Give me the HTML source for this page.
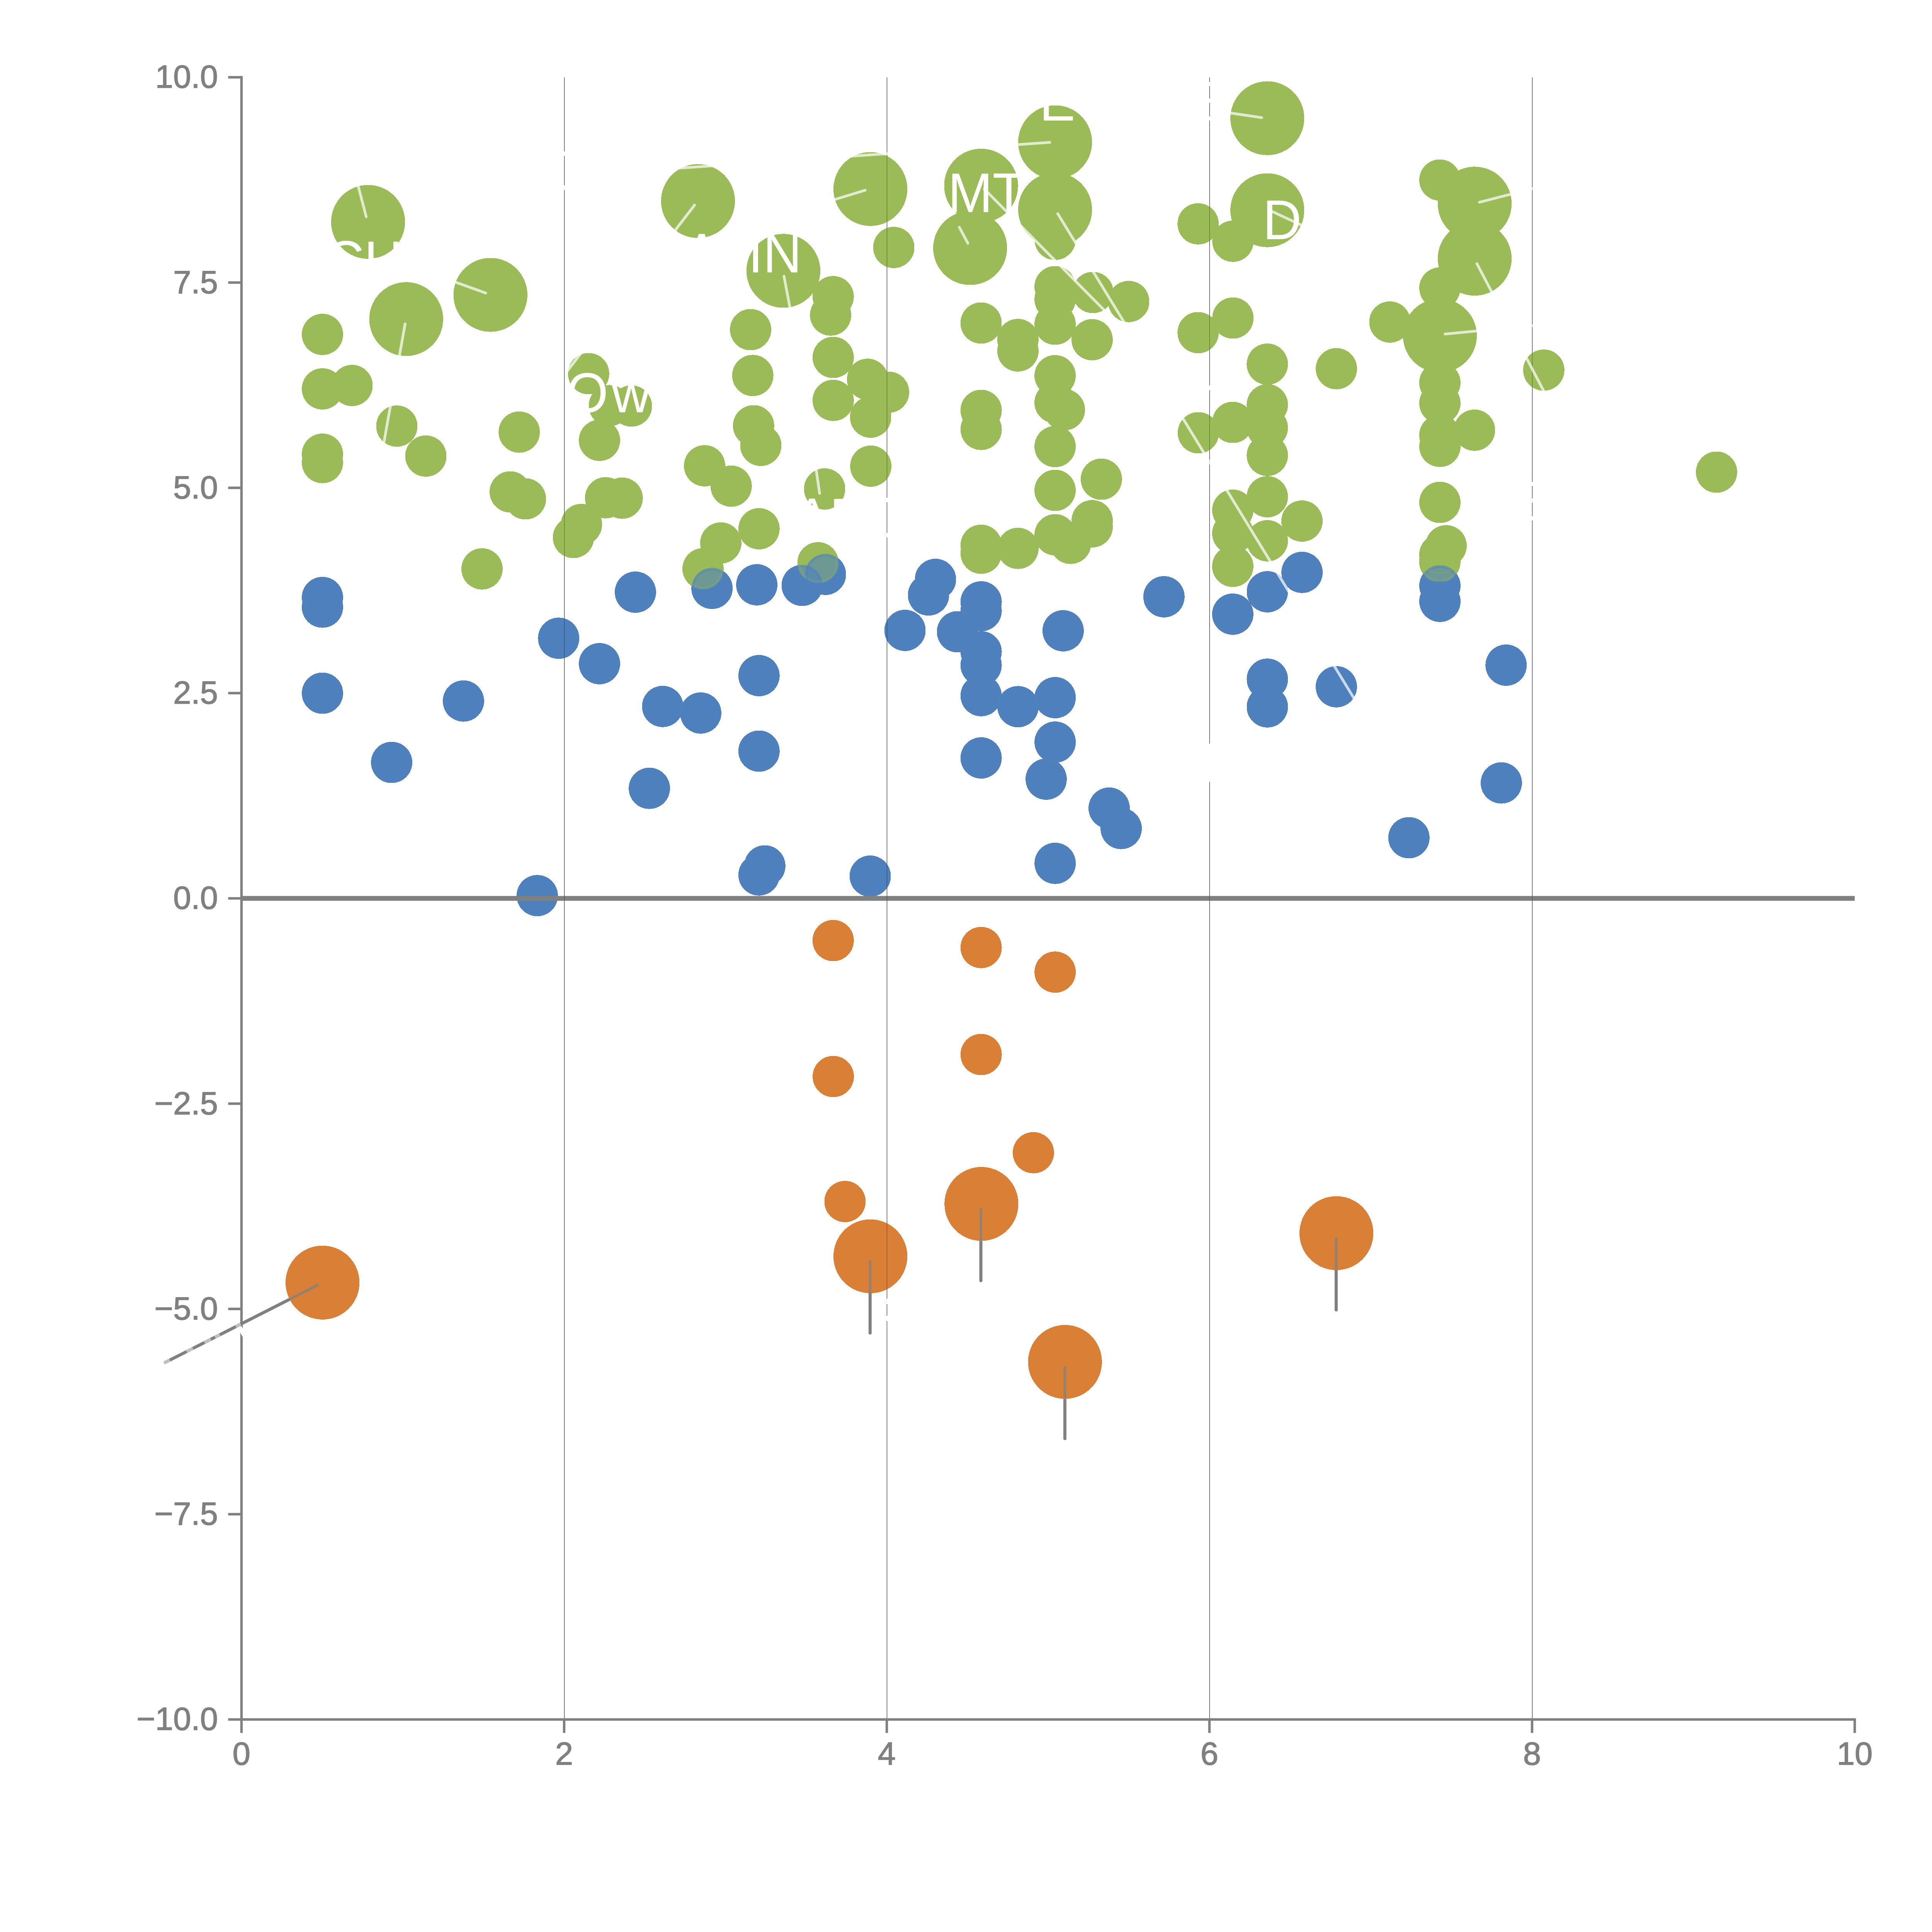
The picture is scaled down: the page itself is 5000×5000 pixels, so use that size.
<!DOCTYPE html><html><head><meta charset="utf-8"><title>chart</title><style>html,body{margin:0;padding:0;background:#fff}svg{display:block}text{font-family:"Liberation Sans",sans-serif}</style></head><body>
<svg width="5000" height="5000" viewBox="0 0 5000 5000">
<rect width="5000" height="5000" fill="#fff"/>
<g fill="#000"><rect x="1460" y="200" width="1" height="4247"/><rect x="2295" y="200" width="1" height="4247"/><rect x="3130" y="200" width="1" height="4247"/><rect x="3965" y="200" width="1" height="4247"/></g>
<g shape-rendering="crispEdges">
<g fill="#4F81BD"><circle cx="834.5" cy="1546.3" r="53.4"/><circle cx="834.5" cy="1571.2" r="53.4"/><circle cx="834.5" cy="1794" r="53.4"/><circle cx="1445.8" cy="1651.8" r="53.4"/><circle cx="1551.5" cy="1717.6" r="53.4"/><circle cx="1199.4" cy="1814.2" r="53.4"/><circle cx="1013.6" cy="1973.1" r="53.4"/><circle cx="1390.4" cy="2317.8" r="53.4"/><circle cx="1644.4" cy="1532.5" r="53.4"/><circle cx="1842.7" cy="1522.7" r="53.4"/><circle cx="1958.6" cy="1513.4" r="53.4"/><circle cx="2076.1" cy="1514.9" r="53.4"/><circle cx="2136.1" cy="1486.4" r="53.4"/><circle cx="2421" cy="1499.4" r="53.4"/><circle cx="2403" cy="1539.8" r="53.4"/><circle cx="2342.1" cy="1631.4" r="53.4"/><circle cx="2478" cy="1635" r="53.4"/><circle cx="1964.3" cy="1748.5" r="53.4"/><circle cx="1715" cy="1828.3" r="53.4"/><circle cx="1813.4" cy="1845.3" r="53.4"/><circle cx="1964.3" cy="1943.9" r="53.4"/><circle cx="1680.6" cy="2040.2" r="53.4"/><circle cx="1979.3" cy="2241" r="53.4"/><circle cx="1964.3" cy="2264.3" r="53.4"/><circle cx="2252.1" cy="2267.4" r="53.4"/><circle cx="2539.2" cy="1557.6" r="53.4"/><circle cx="2539.2" cy="1580.4" r="53.4"/><circle cx="2539.2" cy="1686.7" r="53.4"/><circle cx="2539.2" cy="1721.4" r="53.4"/><circle cx="2539.2" cy="1800.3" r="53.4"/><circle cx="2539.2" cy="1961.5" r="53.4"/><circle cx="2634.5" cy="1828.8" r="53.4"/><circle cx="2730.7" cy="1805.5" r="53.4"/><circle cx="2730.7" cy="1920.6" r="53.4"/><circle cx="2730.7" cy="2234.3" r="53.4"/><circle cx="2751.4" cy="1632.4" r="53.4"/><circle cx="2707.5" cy="2016.4" r="53.4"/><circle cx="2870.5" cy="2091.4" r="53.4"/><circle cx="2901.6" cy="2144.2" r="53.4"/><circle cx="3012.3" cy="1544.4" r="53.4"/><circle cx="3190.4" cy="1589.4" r="53.4"/><circle cx="3279.9" cy="1531.5" r="53.4"/><circle cx="3279.9" cy="1757.7" r="53.4"/><circle cx="3279.9" cy="1829.3" r="53.4"/><circle cx="3369.7" cy="1481.3" r="53.4"/><circle cx="3726.5" cy="1515.9" r="53.4"/><circle cx="3726.5" cy="1556.3" r="53.4"/><circle cx="3897.8" cy="1721.4" r="53.4"/><circle cx="3458.4" cy="1777.3" r="53.4"/><circle cx="3885.4" cy="2026.2" r="53.4"/><circle cx="3646.3" cy="2168" r="53.4"/></g>
<g fill="#9BBB59"><circle cx="952.6" cy="574.3" r="95.6"/><circle cx="1051.3" cy="825.8" r="95.6"/><circle cx="1269.3" cy="763.1" r="95.6"/><circle cx="1806.4" cy="520.3" r="95.6"/><circle cx="2252.6" cy="489.2" r="95.6"/><circle cx="2027.4" cy="700.9" r="95.6"/><circle cx="2730.6" cy="368.1" r="95.6"/><circle cx="2539.1" cy="480.4" r="95.6"/><circle cx="2730.6" cy="542.5" r="95.6"/><circle cx="2510.7" cy="641.9" r="95.6"/><circle cx="3279.8" cy="306" r="95.6"/><circle cx="3279.8" cy="544.1" r="95.6"/><circle cx="3816.5" cy="527" r="95.6"/><circle cx="3816.5" cy="669.4" r="95.6"/><circle cx="3726.4" cy="868.6" r="95.6"/><circle cx="834.5" cy="865.4" r="53.4"/><circle cx="834.5" cy="1006.4" r="53.4"/><circle cx="834.5" cy="1175.4" r="53.4"/><circle cx="834.5" cy="1197.2" r="53.4"/><circle cx="911.1" cy="997.6" r="53.4"/><circle cx="1027" cy="1102.7" r="53.4"/><circle cx="1102.1" cy="1180.3" r="53.4"/><circle cx="1343.8" cy="1118.2" r="53.4"/><circle cx="1320.5" cy="1273" r="53.4"/><circle cx="1359.8" cy="1291.1" r="53.4"/><circle cx="1247.5" cy="1472.3" r="53.4"/><circle cx="1523.3" cy="967" r="53.4"/><circle cx="1577.1" cy="1049.8" r="53.4"/><circle cx="1634.1" cy="1050.8" r="53.4"/><circle cx="1551.5" cy="1139.6" r="53.4"/><circle cx="1567.3" cy="1288.2" r="53.4"/><circle cx="1610.2" cy="1289.2" r="53.4"/><circle cx="1504.8" cy="1357.3" r="53.4"/><circle cx="1484.1" cy="1391" r="53.4"/><circle cx="2313.1" cy="640.4" r="53.4"/><circle cx="2156.3" cy="767.7" r="53.4"/><circle cx="2149.6" cy="815.3" r="53.4"/><circle cx="1942.5" cy="853.1" r="53.4"/><circle cx="2156.3" cy="925" r="53.4"/><circle cx="2156.3" cy="1036.2" r="53.4"/><circle cx="1948.2" cy="971.8" r="53.4"/><circle cx="2245.3" cy="981.6" r="53.4"/><circle cx="2299.7" cy="1015" r="53.4"/><circle cx="1950.3" cy="1101.9" r="53.4"/><circle cx="1969" cy="1152.6" r="53.4"/><circle cx="1823.5" cy="1205.4" r="53.4"/><circle cx="1892.3" cy="1258.2" r="53.4"/><circle cx="1964.3" cy="1368.4" r="53.4"/><circle cx="1865.4" cy="1405.2" r="53.4"/><circle cx="1819.4" cy="1472" r="53.4"/><circle cx="2134.1" cy="1265.4" r="53.4"/><circle cx="2117" cy="1456.4" r="53.4"/><circle cx="2253.1" cy="1079.6" r="53.4"/><circle cx="2253.6" cy="1206.4" r="53.4"/><circle cx="2730.6" cy="619.5" r="53.4"/><circle cx="2730.6" cy="741.9" r="53.4"/><circle cx="2730.6" cy="774.8" r="53.4"/><circle cx="2730.6" cy="839" r="53.4"/><circle cx="2730.6" cy="972.3" r="53.4"/><circle cx="2730.6" cy="1042" r="53.4"/><circle cx="2730.6" cy="1155.7" r="53.4"/><circle cx="2730.6" cy="1269" r="53.4"/><circle cx="2730.6" cy="1384" r="53.4"/><circle cx="2754.6" cy="1060.5" r="53.4"/><circle cx="2828.4" cy="757" r="53.4"/><circle cx="2921.1" cy="780.3" r="53.4"/><circle cx="2539.1" cy="836" r="53.4"/><circle cx="2539.2" cy="1062" r="53.4"/><circle cx="2539.2" cy="1111.2" r="53.4"/><circle cx="2539.2" cy="1411.1" r="53.4"/><circle cx="2539.2" cy="1431.8" r="53.4"/><circle cx="2634.4" cy="878.6" r="53.4"/><circle cx="2634.4" cy="908.3" r="53.4"/><circle cx="2634.5" cy="1419.2" r="53.4"/><circle cx="2826.4" cy="879.2" r="53.4"/><circle cx="2850.3" cy="1240.1" r="53.4"/><circle cx="2826.5" cy="1347.5" r="53.4"/><circle cx="2826.5" cy="1363.5" r="53.4"/><circle cx="2770.6" cy="1406.2" r="53.4"/><circle cx="3100.7" cy="579.3" r="53.4"/><circle cx="3100.7" cy="860.9" r="53.4"/><circle cx="3101.3" cy="1120" r="53.4"/><circle cx="3190.8" cy="624.3" r="53.4"/><circle cx="3190.8" cy="823.1" r="53.4"/><circle cx="3190.4" cy="1093.1" r="53.4"/><circle cx="3190.4" cy="1320.3" r="53.4"/><circle cx="3190.4" cy="1380.3" r="53.4"/><circle cx="3190.4" cy="1465.7" r="53.4"/><circle cx="3279.8" cy="942.4" r="53.4"/><circle cx="3279.8" cy="1047.5" r="53.4"/><circle cx="3279.8" cy="1107" r="53.4"/><circle cx="3279.8" cy="1178.5" r="53.4"/><circle cx="3279.8" cy="1285.6" r="53.4"/><circle cx="3279.8" cy="1399.5" r="53.4"/><circle cx="3369.5" cy="1348.5" r="53.4"/><circle cx="3458.6" cy="954.2" r="53.4"/><circle cx="3597" cy="833.4" r="53.4"/><circle cx="3726.4" cy="466" r="53.4"/><circle cx="3726.4" cy="745.4" r="53.4"/><circle cx="3726.4" cy="990.4" r="53.4"/><circle cx="3726.4" cy="1043.5" r="53.4"/><circle cx="3726.4" cy="1126.2" r="53.4"/><circle cx="3726.4" cy="1155.2" r="53.4"/><circle cx="3726.4" cy="1300.1" r="53.4"/><circle cx="3726.3" cy="1435.5" r="53.4"/><circle cx="3726.3" cy="1454.2" r="53.4"/><circle cx="3742.5" cy="1412.4" r="53.4"/><circle cx="3816" cy="1113.3" r="53.4"/><circle cx="3995.3" cy="957.8" r="53.4"/><circle cx="4442.4" cy="1221.9" r="53.4"/></g>
<g fill="#4F81BD" fill-opacity="0.6"><circle cx="834.5" cy="1546.3" r="53.4"/><circle cx="834.5" cy="1571.2" r="53.4"/><circle cx="834.5" cy="1794" r="53.4"/><circle cx="1445.8" cy="1651.8" r="53.4"/><circle cx="1551.5" cy="1717.6" r="53.4"/><circle cx="1199.4" cy="1814.2" r="53.4"/><circle cx="1013.6" cy="1973.1" r="53.4"/><circle cx="1390.4" cy="2317.8" r="53.4"/><circle cx="1644.4" cy="1532.5" r="53.4"/><circle cx="1842.7" cy="1522.7" r="53.4"/><circle cx="1958.6" cy="1513.4" r="53.4"/><circle cx="2076.1" cy="1514.9" r="53.4"/><circle cx="2136.1" cy="1486.4" r="53.4"/><circle cx="2421" cy="1499.4" r="53.4"/><circle cx="2403" cy="1539.8" r="53.4"/><circle cx="2342.1" cy="1631.4" r="53.4"/><circle cx="2478" cy="1635" r="53.4"/><circle cx="1964.3" cy="1748.5" r="53.4"/><circle cx="1715" cy="1828.3" r="53.4"/><circle cx="1813.4" cy="1845.3" r="53.4"/><circle cx="1964.3" cy="1943.9" r="53.4"/><circle cx="1680.6" cy="2040.2" r="53.4"/><circle cx="1979.3" cy="2241" r="53.4"/><circle cx="1964.3" cy="2264.3" r="53.4"/><circle cx="2252.1" cy="2267.4" r="53.4"/><circle cx="2539.2" cy="1557.6" r="53.4"/><circle cx="2539.2" cy="1580.4" r="53.4"/><circle cx="2539.2" cy="1686.7" r="53.4"/><circle cx="2539.2" cy="1721.4" r="53.4"/><circle cx="2539.2" cy="1800.3" r="53.4"/><circle cx="2539.2" cy="1961.5" r="53.4"/><circle cx="2634.5" cy="1828.8" r="53.4"/><circle cx="2730.7" cy="1805.5" r="53.4"/><circle cx="2730.7" cy="1920.6" r="53.4"/><circle cx="2730.7" cy="2234.3" r="53.4"/><circle cx="2751.4" cy="1632.4" r="53.4"/><circle cx="2707.5" cy="2016.4" r="53.4"/><circle cx="2870.5" cy="2091.4" r="53.4"/><circle cx="2901.6" cy="2144.2" r="53.4"/><circle cx="3012.3" cy="1544.4" r="53.4"/><circle cx="3190.4" cy="1589.4" r="53.4"/><circle cx="3279.9" cy="1531.5" r="53.4"/><circle cx="3279.9" cy="1757.7" r="53.4"/><circle cx="3279.9" cy="1829.3" r="53.4"/><circle cx="3369.7" cy="1481.3" r="53.4"/><circle cx="3726.5" cy="1515.9" r="53.4"/><circle cx="3726.5" cy="1556.3" r="53.4"/><circle cx="3897.8" cy="1721.4" r="53.4"/><circle cx="3458.4" cy="1777.3" r="53.4"/><circle cx="3885.4" cy="2026.2" r="53.4"/><circle cx="3646.3" cy="2168" r="53.4"/></g>
<g fill="none" stroke="#4F81BD" stroke-opacity="0.47" stroke-width="3.4"><circle cx="834.5" cy="1546.3" r="48.2"/><circle cx="834.5" cy="1571.2" r="48.2"/><circle cx="834.5" cy="1794" r="48.2"/><circle cx="1445.8" cy="1651.8" r="48.2"/><circle cx="1551.5" cy="1717.6" r="48.2"/><circle cx="1199.4" cy="1814.2" r="48.2"/><circle cx="1013.6" cy="1973.1" r="48.2"/><circle cx="1390.4" cy="2317.8" r="48.2"/><circle cx="1644.4" cy="1532.5" r="48.2"/><circle cx="1842.7" cy="1522.7" r="48.2"/><circle cx="1958.6" cy="1513.4" r="48.2"/><circle cx="2076.1" cy="1514.9" r="48.2"/><circle cx="2136.1" cy="1486.4" r="48.2"/><circle cx="2421" cy="1499.4" r="48.2"/><circle cx="2403" cy="1539.8" r="48.2"/><circle cx="2342.1" cy="1631.4" r="48.2"/><circle cx="2478" cy="1635" r="48.2"/><circle cx="1964.3" cy="1748.5" r="48.2"/><circle cx="1715" cy="1828.3" r="48.2"/><circle cx="1813.4" cy="1845.3" r="48.2"/><circle cx="1964.3" cy="1943.9" r="48.2"/><circle cx="1680.6" cy="2040.2" r="48.2"/><circle cx="1979.3" cy="2241" r="48.2"/><circle cx="1964.3" cy="2264.3" r="48.2"/><circle cx="2252.1" cy="2267.4" r="48.2"/><circle cx="2539.2" cy="1557.6" r="48.2"/><circle cx="2539.2" cy="1580.4" r="48.2"/><circle cx="2539.2" cy="1686.7" r="48.2"/><circle cx="2539.2" cy="1721.4" r="48.2"/><circle cx="2539.2" cy="1800.3" r="48.2"/><circle cx="2539.2" cy="1961.5" r="48.2"/><circle cx="2634.5" cy="1828.8" r="48.2"/><circle cx="2730.7" cy="1805.5" r="48.2"/><circle cx="2730.7" cy="1920.6" r="48.2"/><circle cx="2730.7" cy="2234.3" r="48.2"/><circle cx="2751.4" cy="1632.4" r="48.2"/><circle cx="2707.5" cy="2016.4" r="48.2"/><circle cx="2870.5" cy="2091.4" r="48.2"/><circle cx="2901.6" cy="2144.2" r="48.2"/><circle cx="3012.3" cy="1544.4" r="48.2"/><circle cx="3190.4" cy="1589.4" r="48.2"/><circle cx="3279.9" cy="1531.5" r="48.2"/><circle cx="3279.9" cy="1757.7" r="48.2"/><circle cx="3279.9" cy="1829.3" r="48.2"/><circle cx="3369.7" cy="1481.3" r="48.2"/><circle cx="3726.5" cy="1515.9" r="48.2"/><circle cx="3726.5" cy="1556.3" r="48.2"/><circle cx="3897.8" cy="1721.4" r="48.2"/><circle cx="3458.4" cy="1777.3" r="48.2"/><circle cx="3885.4" cy="2026.2" r="48.2"/><circle cx="3646.3" cy="2168" r="48.2"/></g>
<g fill="none" stroke="#9BBB59" stroke-opacity="0.22" stroke-width="3.4"><circle cx="834.5" cy="865.4" r="48.2"/><circle cx="834.5" cy="1006.4" r="48.2"/><circle cx="834.5" cy="1175.4" r="48.2"/><circle cx="834.5" cy="1197.2" r="48.2"/><circle cx="911.1" cy="997.6" r="48.2"/><circle cx="1027" cy="1102.7" r="48.2"/><circle cx="1102.1" cy="1180.3" r="48.2"/><circle cx="1343.8" cy="1118.2" r="48.2"/><circle cx="1320.5" cy="1273" r="48.2"/><circle cx="1359.8" cy="1291.1" r="48.2"/><circle cx="1247.5" cy="1472.3" r="48.2"/><circle cx="1523.3" cy="967" r="48.2"/><circle cx="1577.1" cy="1049.8" r="48.2"/><circle cx="1634.1" cy="1050.8" r="48.2"/><circle cx="1551.5" cy="1139.6" r="48.2"/><circle cx="1567.3" cy="1288.2" r="48.2"/><circle cx="1610.2" cy="1289.2" r="48.2"/><circle cx="1504.8" cy="1357.3" r="48.2"/><circle cx="1484.1" cy="1391" r="48.2"/><circle cx="2313.1" cy="640.4" r="48.2"/><circle cx="2156.3" cy="767.7" r="48.2"/><circle cx="2149.6" cy="815.3" r="48.2"/><circle cx="1942.5" cy="853.1" r="48.2"/><circle cx="2156.3" cy="925" r="48.2"/><circle cx="2156.3" cy="1036.2" r="48.2"/><circle cx="1948.2" cy="971.8" r="48.2"/><circle cx="2245.3" cy="981.6" r="48.2"/><circle cx="2299.7" cy="1015" r="48.2"/><circle cx="1950.3" cy="1101.9" r="48.2"/><circle cx="1969" cy="1152.6" r="48.2"/><circle cx="1823.5" cy="1205.4" r="48.2"/><circle cx="1892.3" cy="1258.2" r="48.2"/><circle cx="1964.3" cy="1368.4" r="48.2"/><circle cx="1865.4" cy="1405.2" r="48.2"/><circle cx="1819.4" cy="1472" r="48.2"/><circle cx="2134.1" cy="1265.4" r="48.2"/><circle cx="2117" cy="1456.4" r="48.2"/><circle cx="2253.1" cy="1079.6" r="48.2"/><circle cx="2253.6" cy="1206.4" r="48.2"/><circle cx="2730.6" cy="619.5" r="48.2"/><circle cx="2730.6" cy="741.9" r="48.2"/><circle cx="2730.6" cy="774.8" r="48.2"/><circle cx="2730.6" cy="839" r="48.2"/><circle cx="2730.6" cy="972.3" r="48.2"/><circle cx="2730.6" cy="1042" r="48.2"/><circle cx="2730.6" cy="1155.7" r="48.2"/><circle cx="2730.6" cy="1269" r="48.2"/><circle cx="2730.6" cy="1384" r="48.2"/><circle cx="2754.6" cy="1060.5" r="48.2"/><circle cx="2828.4" cy="757" r="48.2"/><circle cx="2921.1" cy="780.3" r="48.2"/><circle cx="2539.1" cy="836" r="48.2"/><circle cx="2539.2" cy="1062" r="48.2"/><circle cx="2539.2" cy="1111.2" r="48.2"/><circle cx="2539.2" cy="1411.1" r="48.2"/><circle cx="2539.2" cy="1431.8" r="48.2"/><circle cx="2634.4" cy="878.6" r="48.2"/><circle cx="2634.4" cy="908.3" r="48.2"/><circle cx="2634.5" cy="1419.2" r="48.2"/><circle cx="2826.4" cy="879.2" r="48.2"/><circle cx="2850.3" cy="1240.1" r="48.2"/><circle cx="2826.5" cy="1347.5" r="48.2"/><circle cx="2826.5" cy="1363.5" r="48.2"/><circle cx="2770.6" cy="1406.2" r="48.2"/><circle cx="3100.7" cy="579.3" r="48.2"/><circle cx="3100.7" cy="860.9" r="48.2"/><circle cx="3101.3" cy="1120" r="48.2"/><circle cx="3190.8" cy="624.3" r="48.2"/><circle cx="3190.8" cy="823.1" r="48.2"/><circle cx="3190.4" cy="1093.1" r="48.2"/><circle cx="3190.4" cy="1320.3" r="48.2"/><circle cx="3190.4" cy="1380.3" r="48.2"/><circle cx="3190.4" cy="1465.7" r="48.2"/><circle cx="3279.8" cy="942.4" r="48.2"/><circle cx="3279.8" cy="1047.5" r="48.2"/><circle cx="3279.8" cy="1107" r="48.2"/><circle cx="3279.8" cy="1178.5" r="48.2"/><circle cx="3279.8" cy="1285.6" r="48.2"/><circle cx="3279.8" cy="1399.5" r="48.2"/><circle cx="3369.5" cy="1348.5" r="48.2"/><circle cx="3458.6" cy="954.2" r="48.2"/><circle cx="3597" cy="833.4" r="48.2"/><circle cx="3726.4" cy="466" r="48.2"/><circle cx="3726.4" cy="745.4" r="48.2"/><circle cx="3726.4" cy="990.4" r="48.2"/><circle cx="3726.4" cy="1043.5" r="48.2"/><circle cx="3726.4" cy="1126.2" r="48.2"/><circle cx="3726.4" cy="1155.2" r="48.2"/><circle cx="3726.4" cy="1300.1" r="48.2"/><circle cx="3726.3" cy="1435.5" r="48.2"/><circle cx="3726.3" cy="1454.2" r="48.2"/><circle cx="3742.5" cy="1412.4" r="48.2"/><circle cx="3816" cy="1113.3" r="48.2"/><circle cx="3995.3" cy="957.8" r="48.2"/><circle cx="4442.4" cy="1221.9" r="48.2"/></g>
<g fill="#D98036"><circle cx="834.7" cy="3319.3" r="95.6"/><circle cx="2252.6" cy="3251.3" r="95.6"/><circle cx="2539.9" cy="3115.7" r="95.6"/><circle cx="2756.2" cy="3524.6" r="95.6"/><circle cx="3458.6" cy="3191.4" r="95.6"/><circle cx="2156.3" cy="2434.1" r="53.4"/><circle cx="2539.2" cy="2452.2" r="53.4"/><circle cx="2730.7" cy="2515.8" r="53.4"/><circle cx="2156.5" cy="2786" r="53.4"/><circle cx="2539.2" cy="2729.1" r="53.4"/><circle cx="2186.9" cy="3109.5" r="53.4"/><circle cx="2674.4" cy="2983.2" r="53.4"/></g>
</g>
<rect x="625" y="2318.75" width="4175" height="12.5" fill="#808080"/>
<g stroke="#808080" stroke-width="6.4" fill="none" stroke-linecap="butt">
<path d="M625 196.8V4453.2"/><path d="M621.8 4450H4803.2"/>
<path d="M590.5 200.0H625"/>
<path d="M590.5 731.25H625"/>
<path d="M590.5 1262.5H625"/>
<path d="M590.5 1793.75H625"/>
<path d="M590.5 2325.0H625"/>
<path d="M590.5 2856.25H625"/>
<path d="M590.5 3387.5H625"/>
<path d="M590.5 3918.75H625"/>
<path d="M590.5 4450.0H625"/>
<path d="M625.0 4450V4484.8"/>
<path d="M1460.0 4450V4484.8"/>
<path d="M2295.0 4450V4484.8"/>
<path d="M3130.0 4450V4484.8"/>
<path d="M3965.0 4450V4484.8"/>
<path d="M4800.0 4450V4484.8"/>
</g>
<g fill="#000" fill-opacity="0.5"><rect x="1460" y="200" width="1" height="4247"/><rect x="2295" y="200" width="1" height="4247"/><rect x="3130" y="200" width="1" height="4247"/><rect x="3965" y="200" width="1" height="4247"/></g>
<g fill="#808080" stroke="#808080" stroke-width="1.6" stroke-linejoin="round" font-size="83.33px">
<text transform="translate(564.0 227.4) scale(1 1.005)" text-anchor="end">10.0</text>
<text transform="translate(564.0 758.6) scale(1 1.005)" text-anchor="end">7.5</text>
<text transform="translate(564.0 1289.9) scale(1 1.005)" text-anchor="end">5.0</text>
<text transform="translate(564.0 1821.2) scale(1 1.005)" text-anchor="end">2.5</text>
<text transform="translate(564.0 2352.4) scale(1 1.005)" text-anchor="end">0.0</text>
<text transform="translate(564.0 2883.7) scale(1 1.005)" text-anchor="end">−2.5</text>
<text transform="translate(564.0 3414.9) scale(1 1.005)" text-anchor="end">−5.0</text>
<text transform="translate(564.0 3946.2) scale(1 1.005)" text-anchor="end">−7.5</text>
<text transform="translate(564.0 4477.4) scale(1 1.005)" text-anchor="end">−10.0</text>
<text transform="translate(625.0 4566.6) scale(1 1.005)" text-anchor="middle">0</text>
<text transform="translate(1460.0 4566.6) scale(1 1.005)" text-anchor="middle">2</text>
<text transform="translate(2295.0 4566.6) scale(1 1.005)" text-anchor="middle">4</text>
<text transform="translate(3130.0 4566.6) scale(1 1.005)" text-anchor="middle">6</text>
<text transform="translate(3965.0 4566.6) scale(1 1.005)" text-anchor="middle">8</text>
<text transform="translate(4800.0 4566.6) scale(1 1.005)" text-anchor="middle">10</text>
</g>
<g fill="#fff" font-size="138.7px">
<text transform="translate(842.2 724.6) scale(1 1.041)">CH</text>
<text transform="translate(1769.5 704.9) scale(1 1.041)">A</text>
<text transform="translate(1936.2 704.9) scale(1 1.041)">IN</text>
<text transform="translate(2453.3 548.6) scale(1 1.041)">MT</text>
<text transform="translate(2690.1 312.1) scale(1 1.041)">E</text>
<text transform="translate(3078 312.1) scale(1 1.041)">E</text>
<text transform="translate(3268.2 619) scale(1 1.041)">D</text>
<text transform="translate(1466.3 1067) scale(1 1.041)">O</text>
<text transform="translate(1583.3 1067) scale(1 0.985)">w</text>
<text transform="translate(2054.7 1390.3) scale(1 1.041)">ARO</text>
<text transform="translate(598.6 3532) scale(1 1.041)">N</text>
<text transform="translate(3915 1346.5) scale(1 1.041)">E</text>
</g>
<g fill="#fff"><rect x="1454" y="391.9" width="13" height="12"/><rect x="1454" y="479.7" width="13" height="12.4"/><rect x="3124" y="1924.5" width="13.5" height="99.1"/><rect x="2289" y="3361" width="13" height="14"/><rect x="2289" y="3405" width="13" height="14"/><rect x="3124" y="997.3" width="13" height="12.8"/></g>
<g stroke="#808080" stroke-width="8" fill="none">
<path d="M749.5 3362.6L427.7 3525.9"/><path stroke-linecap="round" d="M427.70 3525.90l0.01 0"/>
<path d="M2251.8 3346.9L2251.8 3449.8"/><path stroke-linecap="round" d="M2251.80 3449.80l0.01 0"/>
<path d="M2538.5 3211.3L2538.5 3314.2"/><path stroke-linecap="round" d="M2538.50 3314.20l0.01 0"/>
<path d="M2755.9 3620.2L2755.9 3723.1"/><path stroke-linecap="round" d="M2755.90 3723.10l0.01 0"/>
<path d="M3458.0 3287.0L3458.0 3389.9"/><path stroke-linecap="round" d="M3458.00 3389.90l0.01 0"/>
</g>
<g stroke="#96806E" stroke-width="6.8" fill="none">
<path stroke-linecap="round" d="M821.90 3325.90l0.01 0"/><path d="M821.9 3325.9L749.5 3362.6"/>
<path stroke-linecap="round" d="M2251.80 3265.40l0.01 0"/><path d="M2251.8 3265.4L2251.8 3346.9"/>
<path stroke-linecap="round" d="M2538.50 3129.80l0.01 0"/><path d="M2538.5 3129.8L2538.5 3211.3"/>
<path stroke-linecap="round" d="M2755.90 3538.70l0.01 0"/><path d="M2755.9 3538.7L2755.9 3620.2"/>
<path stroke-linecap="round" d="M3458.00 3205.50l0.01 0"/><path d="M3458.0 3205.5L3458.0 3287.0"/>
</g>
<g stroke="#C0C0C0" stroke-width="8" fill="none">
<path stroke-linecap="round" d="M427.70 3525.90l0.01 0"/><path d="M427.7 3525.9L439.6 3519.9"/>
<path d="M482.7 3498.0L499.3 3489.6"/>
<path d="M529 3474.5L545.6 3466.1"/>
<path d="M556.4 3460.6L568.8 3454.3"/>
<path d="M610.2 3433.3L622.7 3427.0"/>
</g>
<g stroke="#fff" stroke-opacity="0.7" stroke-width="7" stroke-linecap="round" fill="none">
<path d="M947.8 560.9L920 455"/>
<path d="M1048.4 838.3L990 1165"/>
<path d="M1257.1 758.4L1160 723.5"/>
<path d="M1797.6 530.6L1466 963"/>
<path d="M2716.7 368.6L1500 453"/>
<path d="M2239.1 492.3L2140 522.5"/>
<path d="M2029 714.9L2046 805"/>
<path d="M2547.4 489.2L2870 815"/>
<path d="M2737.4 552.9L3515 1825"/>
<path d="M2504.8 629.6L2482.8 588.2"/>
<path d="M3265.3 304.5L3170 290.3"/>
<path d="M3293.2 547.7L3385 590.5"/>
<path d="M3828.9 523.4L4000 479.3"/>
<path d="M3822.2 682.3L4000 1021"/>
<path d="M3739.9 864.5L4000 839.5"/>
<path d="M2121.1 1276.8L2111 1207"/>
</g>
</svg></body></html>
